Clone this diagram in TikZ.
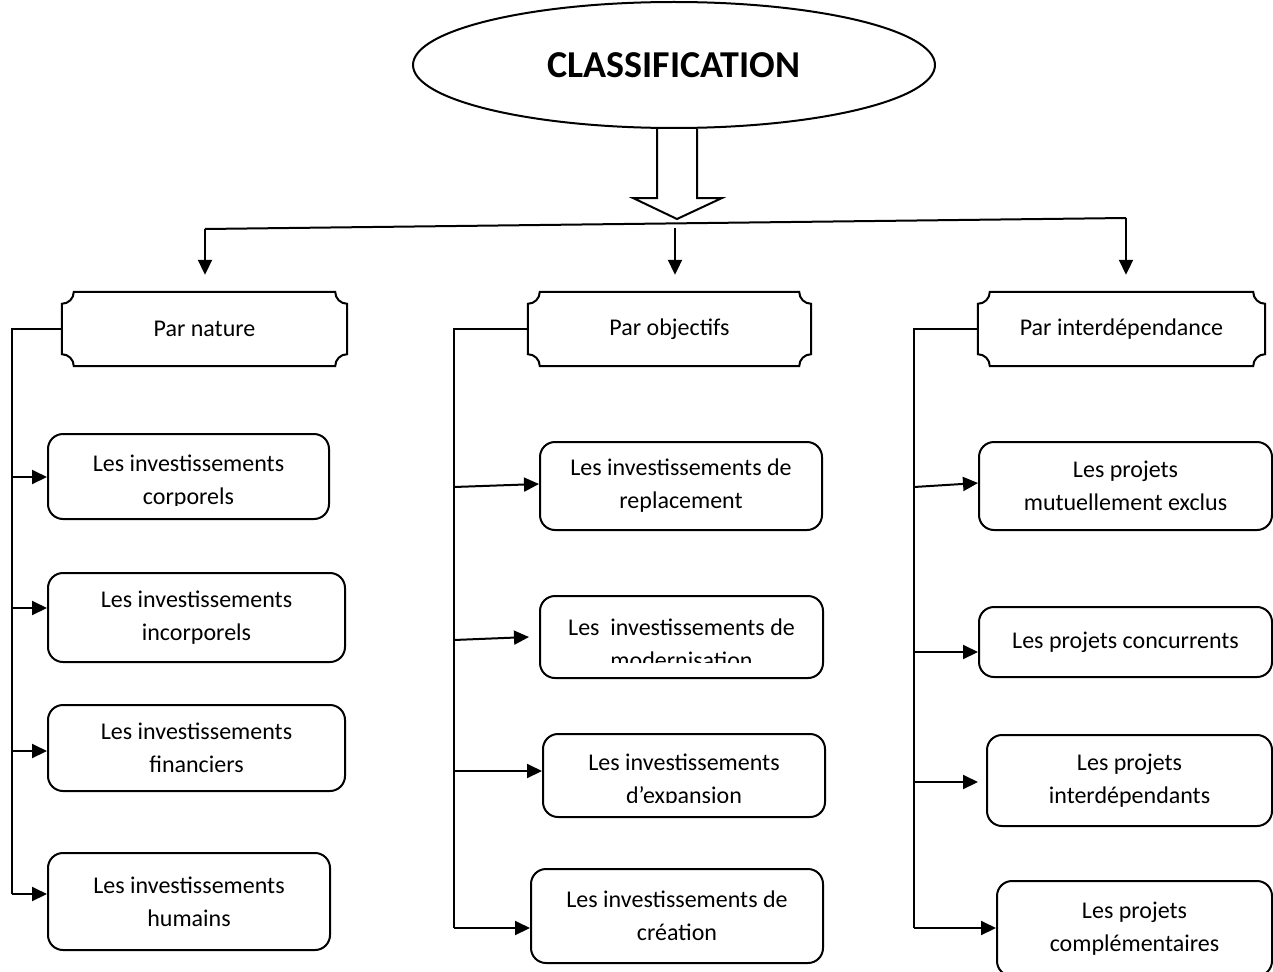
\documentclass[tikz,border=0pt]{standalone}
\usepackage{fontspec}
\setmainfont{Carlito}
\usetikzlibrary{arrows.meta,shapes.geometric}

\tikzset{
  line/.style={line width=2pt},
  arr/.style={line width=2pt,-{Triangle[length=15pt,width=14pt]}},
  txt/.style={inner sep=0pt,align=center,font=\fontsize{24}{33}\selectfont},
  box/.style={txt,draw,line width=2pt,rounded corners=15pt},
  plaque/.style={txt,minimum height=74pt},
}

% frame with concave (scooped) corners around a node
\newcommand\plaqueframe[1]{%
  \draw[line] ([xshift=12pt]#1.north west) -- ([xshift=-12pt]#1.north east)
    arc[start angle=180,end angle=270,radius=12pt]
    -- ([yshift=12pt]#1.south east)
    arc[start angle=90,end angle=180,radius=12pt]
    -- ([xshift=12pt]#1.south west)
    arc[start angle=0,end angle=90,radius=12pt]
    -- ([yshift=-12pt]#1.north west)
    arc[start angle=270,end angle=360,radius=12pt] -- cycle;}

\begin{document}
\begin{tikzpicture}[x=1pt,y=-1pt]
\useasboundingbox (0,0) rectangle (1273,971);
\clip (0,0) rectangle (1273,971);

% title
\node[draw,ellipse,line width=2pt,minimum width=522pt,minimum height=126pt,inner sep=0pt,
      font=\bfseries\fontsize{38}{42}\selectfont] (cls) at (674,65) {CLASSIFICATION};

% hollow block arrow
\draw[line,fill=white,line join=miter] (cls.south -| 657,0) -- (657,198) -- (633,198) -- (677,219)
   -- (722,198) -- (697,198) -- (cls.south -| 697,0);

% distribution line
\coordinate (hl) at (205,229);
\coordinate (hr) at (1126,218);
\coordinate (hm) at (675,228);
\draw[line] (hl) -- (hr);

% category headers
\node[plaque,minimum width=285pt] (pn) at (204.5,329) {Par nature};
\node[plaque,minimum width=283pt] (po) at (669.5,329) {Par objectifs};
\node[plaque,minimum width=287pt] (pi) at (1121.5,329) {Par interdépendance};
\plaqueframe{pn}
\plaqueframe{po}
\plaqueframe{pi}

\draw[arr] (hl) -- ([yshift=17pt]pn.north -| hl);
\draw[arr] (hm) -- ([yshift=17pt]po.north -| hm);
\draw[arr] (hr) -- ([yshift=17pt]pi.north -| hr);

% ---- left column: by nature
\node[box,minimum width=281pt,minimum height=85pt] (corp) at (188.5,476.5) {};
\begin{scope}
  \clip (48,434) rectangle (329,505);
  \node[txt] (corpt) at (188.5,482) {Les investissements\\corporels};
\end{scope}
\node[box,minimum width=297pt,minimum height=89pt] (incorp) at (196.5,617.5) {Les investissements\\incorporels};
\node[box,minimum width=297pt,minimum height=86pt] (fin) at (196.5,748) {Les investissements\\financiers};
\node[box,minimum width=282pt,minimum height=97pt] (hum) at (189,901.5) {Les investissements\\humains};

\coordinate (lc) at (12,329);
\coordinate (l1) at (12,477);
\coordinate (l2) at (12,608);
\coordinate (l3) at (12,751);
\coordinate (l4) at (12,894);
\draw[line] (pn.west) -- (lc) -- (l4);
\draw[arr] (l1) -- (l1 -| corp.west);
\draw[arr] (l2) -- (l2 -| incorp.west);
\draw[arr] (l3) -- (l3 -| fin.west);
\draw[arr] (l4) -- (l4 -| hum.west);

% ---- middle column: by objective
\node[box,minimum width=282pt,minimum height=88pt] (repl) at (681,486) {Les investissements de\\replacement};
\node[box,minimum width=283pt,minimum height=82pt] (mod) at (681.5,637) {};
\begin{scope}
  \clip (540,596) rectangle (823,662);
  \node[txt] (modt) at (681.5,644) {Les\ \ investissements de\\modernisation};
\end{scope}
\node[box,minimum width=282pt,minimum height=83pt] (exp) at (684,775.5) {};
\begin{scope}
  \clip (543,734) rectangle (825,802);
  \node[txt] (expt) at (684,781) {Les investissements\\d’expansion};
\end{scope}
\node[box,minimum width=292pt,minimum height=94pt] (crea) at (677,916) {Les investissements de\\création};

\coordinate (mc) at (454,329);
\coordinate (m1) at (454,487);
\coordinate (m2) at (454,640);
\coordinate (m3) at (454,771);
\coordinate (m4) at (454,928);
\draw[line] (po.west) -- (mc) -- (m4);
\draw[arr] (m1) -- ([yshift=2pt]repl.west);
\draw[arr] (m2) -- ([xshift=-10pt]mod.west);
\draw[arr] (m3) -- (m3 -| exp.west);
\draw[arr] (m4) -- (m4 -| crea.west);

% ---- right column: by interdependence
\node[box,minimum width=293pt,minimum height=88pt] (mut) at (1125.5,486) {Les projets\\mutuellement exclus};
\node[box,minimum width=293pt,minimum height=70pt] (conc) at (1125.5,642) {Les projets concurrents};
\node[box,minimum width=285pt,minimum height=91pt] (inter) at (1129.5,780.5) {Les projets\\interdépendants};
\node[box,minimum width=275pt,minimum height=95pt] (compl) at (1134.5,928.5) {Les projets\\complémentaires};

\coordinate (rc) at (914,329);
\coordinate (r1) at (914,487);
\coordinate (r2) at (914,652);
\coordinate (r3) at (914,782);
\coordinate (r4) at (914,928);
\draw[line] (pi.west) -- (rc) -- (r4);
\draw[arr] (r1) -- ([yshift=3pt]mut.west);
\draw[arr] (r2) -- (r2 -| conc.west);
\draw[arr] (r3) -- ([xshift=-8pt]r3 -| inter.west);
\draw[arr] (r4) -- (r4 -| compl.west);
\end{tikzpicture}
\end{document}
